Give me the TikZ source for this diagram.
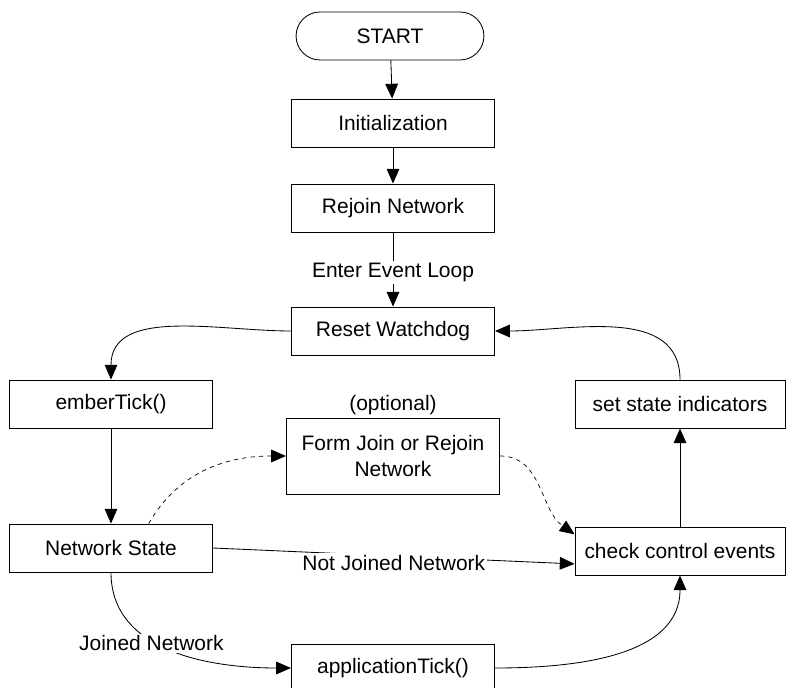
\documentclass[tikz,border=0pt]{standalone}
\usepackage{fontspec}
\setmainfont{Liberation Sans}
\usetikzlibrary{arrows.meta,shapes.misc}
\begin{document}
\begin{tikzpicture}[x=0.025cm,y=-0.025cm,
    font=\fontsize{14.9}{17.8}\selectfont,
    box/.style={draw,line width=0.6pt,minimum width=5.08cm,minimum height=1.2cm,align=center},
    term/.style={draw,line width=0.6pt,rounded rectangle,minimum width=4.93cm,minimum height=1.2cm},
    flow/.style={-{Triangle[length=10.5pt,width=9pt]},line width=0.6pt},
    lbl/.style={fill=white,inner sep=1.5pt}]
    \useasboundingbox (0,0) rectangle (788,688);
    % main column
    \node[term] (start) at (390,36) {START};
    \node[box] (init) at (393,123) {Initialization};
    \node[box] (rejoin) at (393,208) {Rejoin Network};
    \node[box] (reset) at (393,331) {Reset Watchdog};
    \node[box] (apptick) at (393,668) {applicationTick()};
    % left column
    \node[box] (ember) at (111,404) {emberTick()};
    \node[box] (nwstate) at (111,548) {Network State};
    % optional step
    \node (optional) at (393,405) {(optional)};
    \node[box,minimum width=5.33cm,minimum height=1.9cm] (formjoin) at (393,456) {Form Join or Rejoin\\Network};
    % right column
    \node[box,minimum width=5.25cm] (indicators) at (680,404) {set state indicators};
    \node[box,minimum width=5.25cm] (control) at (680,551) {check control events};
    % connectors
    \draw[flow] (start) -- (init);
    \draw[flow] (init) -- (rejoin);
    \draw[flow] (rejoin) -- node[lbl,yshift=-2pt] {Enter Event Loop} (reset);
    \draw[flow] (reset.west) to[out=180,in=90] (ember.north);
    \draw[flow] (ember) -- (nwstate);
    \draw[flow,dashed,line width=0.5pt] (nwstate.33) to[out=60,in=180] (formjoin.west);
    \draw[flow,dashed,line width=0.5pt] (formjoin.east) to[out=0,in=145] (control.171);
    \draw[flow] (nwstate.east) -- node[lbl,pos=0.5,yshift=-5pt] {Not Joined Network} (control.187);
    \draw[flow] (nwstate.south) to[out=-90,in=180] node[lbl,pos=0.4,yshift=-2pt] {Joined Network} (apptick.west);
    \draw[flow] (apptick.east) to[out=0,in=-90] (control.south);
    \draw[flow] (control) -- (indicators);
    \draw[flow] (indicators.north) to[out=90,in=0] (reset.east);
\end{tikzpicture}
\end{document}
